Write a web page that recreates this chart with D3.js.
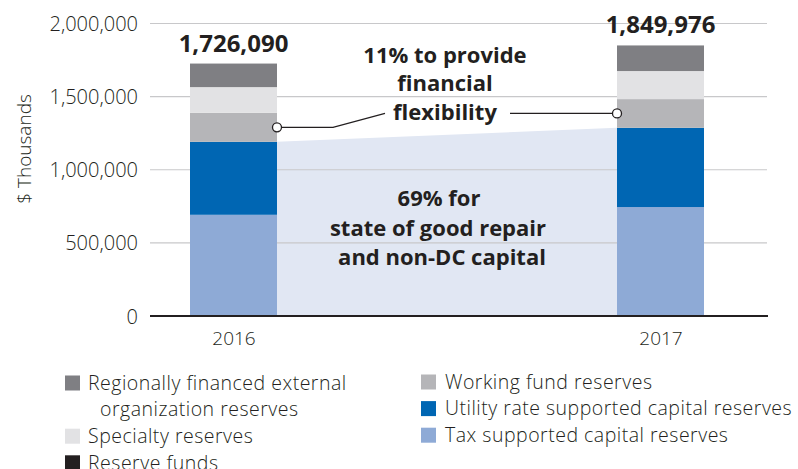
<!DOCTYPE html>
<html>
<head>
<meta charset="utf-8">
<script src="https://cdn.jsdelivr.net/npm/d3@7/dist/d3.min.js"></script>
<style>
  html, body { margin: 0; padding: 0; background: #fff; }
  svg { display: block; }
  text { font-family: "Open Sans", Lato, sans-serif; fill: #231f20; }
</style>
</head>
<body>
<svg id="chart" width="798" height="469"></svg>
<script>
// ---- data ----
const years = ["2016", "2017"];
const totals = [1726090, 1849976];
const seriesNames = [
  "Tax supported capital reserves",
  "Utility rate supported capital reserves",
  "Working fund reserves",
  "Specialty reserves",
  "Regionally financed external organization reserves",
  "Reserve funds"
];
const taxSupported = [692000, 745000];
const utilityRate = [499000, 542000];
const workingFund = [198000, 196000];
const specialty = [176000, 192000];
const regional = [161090, 174976];
const reserveFunds = [0, 0];
const seriesColors = ["#8eaad6", "#0066b3", "#b5b5b8", "#e2e2e4", "#7f7f83", "#231f20"];
const yTicks = [0, 500000, 1000000, 1500000, 2000000];

const legendCol1 = [
  { lines: ["Regionally financed external", "organization reserves"], color: "#7f7f83" },
  { lines: ["Specialty reserves"], color: "#e2e2e4" },
  { lines: ["Reserve funds"], color: "#231f20" }
];
const legendCol2 = [
  { lines: ["Working fund reserves"], color: "#b5b5b8" },
  { lines: ["Utility rate supported capital reserves"], color: "#0066b3" },
  { lines: ["Tax supported capital reserves"], color: "#8eaad6" }
];
const noteTop = ["11% to provide", "financial", "flexibility"];
const noteMid = ["69% for", "state of good repair", "and non-DC capital"];

// ---- build ----
const seriesValues = [taxSupported, utilityRate, workingFund, specialty, regional, reserveFunds];
const table = years.map((yr, i) => {
  const row = { year: yr };
  seriesNames.forEach((s, k) => row[s] = seriesValues[k][i]);
  return row;
});
const stacked = d3.stack().keys(seriesNames)(table);

const svg = d3.select("#chart");
const x0 = 150, x1 = 767;
const y = d3.scaleLinear().domain([0, 2000000]).range([316, 23.5]);
const x = d3.scalePoint().domain(years).range([233.5, 660.5]);
const bw = 87;
const lightFont = "'Open Sans', sans-serif";
const lightColor = "#333335";

// shaded band between bars (state of good repair share)
const utilTop = stacked[1].map(d => d[1]);
svg.append("path")
  .attr("d", d3.area().x(d => d.x).y0(y(0)).y1(d => y(d.v))([
    { x: x(years[0]) + bw / 2, v: utilTop[0] },
    { x: x(years[1]) - bw / 2, v: utilTop[1] }
  ]))
  .attr("fill", "#e1e7f3");

// gridlines
svg.append("g").selectAll("line").data(yTicks.filter(t => t > 0)).join("line")
  .attr("x1", x0).attr("x2", x1)
  .attr("y1", d => y(d)).attr("y2", d => y(d))
  .attr("stroke", "#c8c8ca").attr("stroke-width", 1.2);

// y axis labels
const yAxis = d3.axisLeft(y).tickValues(yTicks).tickFormat(d3.format(",")).tickSize(0).tickPadding(0);
const ga = svg.append("g").attr("transform", "translate(138,0)").call(yAxis);
ga.select(".domain").remove();
ga.selectAll("text").attr("font-size", 20).attr("font-weight", 300)
  .attr("font-family", lightFont).attr("fill", lightColor).attr("dy", "0.35em");

svg.append("text").attr("transform", "translate(31,149) rotate(-90)")
  .attr("text-anchor", "middle").attr("font-size", 19).attr("font-weight", 300)
  .attr("font-family", lightFont).attr("fill", lightColor).text("$ Thousands");

// bars
svg.append("g").selectAll("g").data(stacked).join("g")
  .attr("fill", (d, i) => seriesColors[i])
  .selectAll("rect").data(d => d).join("rect")
  .attr("x", d => x(d.data.year) - bw / 2)
  .attr("width", bw)
  .attr("y", d => y(d[1]))
  .attr("height", d => y(d[0]) - y(d[1]));

// baseline
svg.append("line").attr("x1", x0).attr("x2", x1 + 1)
  .attr("y1", y(0)).attr("y2", y(0)).attr("stroke", "#231f20").attr("stroke-width", 2.2);

// x labels
const xAxis = d3.axisBottom(x).tickSize(0).tickPadding(0);
const gx = svg.append("g").attr("transform", `translate(0,${y(0) + 22})`).call(xAxis);
gx.select(".domain").remove();
gx.selectAll("text").attr("font-size", 19).attr("font-weight", 300)
  .attr("font-family", lightFont).attr("fill", lightColor).attr("dy", "0.35em");

// totals
svg.append("g").selectAll("text").data(totals).join("text")
  .attr("x", (d, i) => x(years[i]))
  .attr("y", d => y(d) - 12)
  .attr("text-anchor", "middle").attr("font-size", 24).attr("font-weight", 700)
  .text(d => d3.format(",")(d));

// callout for working fund
const wMid = stacked[2].map(d => (d[0] + d[1]) / 2);
const lx = x(years[0]) + bw / 2, ly = y(wMid[0]);
const rx = x(years[1]) - bw / 2, ry = y(wMid[1]);
svg.append("path").attr("d", `M${lx},${ly}H333L385,${ry}`)
  .attr("fill", "none").attr("stroke", "#231f20").attr("stroke-width", 1.3);
svg.append("path").attr("d", `M510,${ry}H${rx}`)
  .attr("fill", "none").attr("stroke", "#231f20").attr("stroke-width", 1.3);
svg.selectAll("circle.c").data([[lx, ly], [rx, ry]]).join("circle")
  .attr("cx", d => d[0]).attr("cy", d => d[1]).attr("r", 4.5)
  .attr("fill", "#fff").attr("stroke", "#231f20").attr("stroke-width", 1.3);

svg.append("g").selectAll("text").data(noteTop).join("text")
  .attr("x", 445).attr("y", (d, i) => 63 + i * 28.3)
  .attr("text-anchor", "middle").attr("font-size", 22).attr("font-weight", 700)
  .text(d => d);

svg.append("g").selectAll("text").data(noteMid).join("text")
  .attr("x", (d, i) => [439, 438, 442][i]).attr("y", (d, i) => 206 + i * 29.7)
  .attr("text-anchor", "middle").attr("font-size", 22).attr("font-weight", 700)
  .text(d => d);

// legend
function drawLegend(items, sx, tx, sy) {
  let row = 0;
  items.forEach(it => {
    const cy = sy + row * 26.6;
    svg.append("rect").attr("x", sx).attr("y", cy - 7.5).attr("width", 15).attr("height", 15).attr("fill", it.color);
    it.lines.forEach((ln, j) => {
      svg.append("text").attr("x", j === 0 ? tx : tx + 12).attr("y", cy + j * 26.6)
        .attr("dy", "0.35em").attr("font-size", 19.5).attr("font-weight", 300)
        .attr("letter-spacing", 0.5)
        .attr("font-family", lightFont).attr("fill", lightColor).text(ln);
    });
    row += it.lines.length;
  });
}
drawLegend(legendCol1, 65, 88, 383);
drawLegend(legendCol2, 421, 445, 382);
</script>
</body>
</html>
